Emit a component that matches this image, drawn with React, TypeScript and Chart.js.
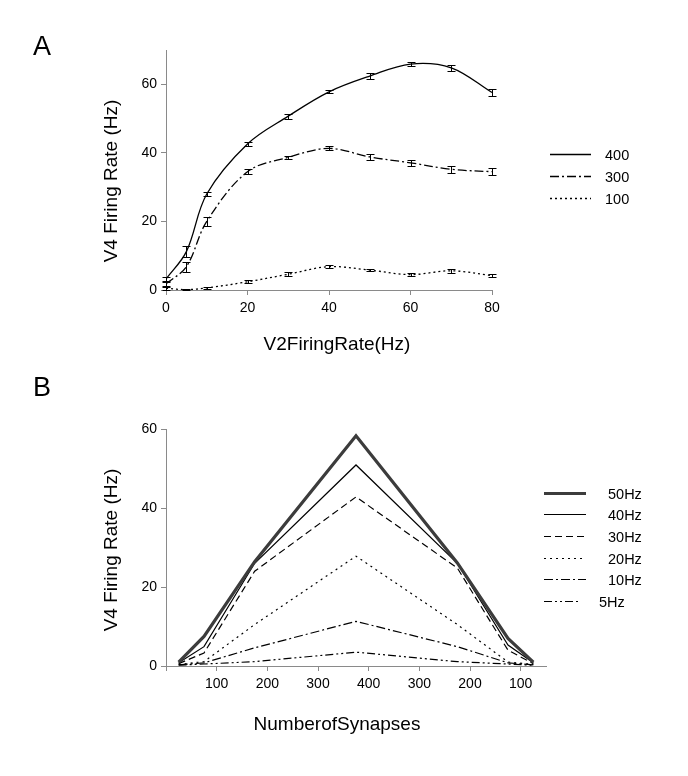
import React, { useEffect, useRef } from 'react';
import { Chart, registerables } from 'chart.js';

Chart.register(...registerables);

const FONT = '"Liberation Sans", Arial, Helvetica, sans-serif';

// ---------- Panel A data ----------
const xA = [0, 5, 10, 20, 30, 40, 50, 60, 70, 80];
const a400 = [3.2, 11.2, 28, 42.6, 50.7, 57.8, 62.4, 65.9, 64.8, 57.6];
const a400Err = [0.6, 1.5, 0.6, 0.5, 0.7, 0.4, 0.9, 0.7, 0.8, 1.0];
const a300 = [1.8, 6.8, 20, 34.5, 38.7, 41.3, 38.8, 37.1, 35.2, 34.5];
const a300Err = [0.6, 1.5, 1.2, 0.7, 0.5, 0.6, 1.0, 0.8, 1.0, 1.0];
const a100 = [0.5, 0.1, 0.6, 2.4, 4.6, 6.8, 5.8, 4.5, 5.6, 4.2];
const a100Err = [0.4, 0.2, 0.4, 0.5, 0.6, 0.4, 0.4, 0.4, 0.5, 0.4];
const aLabels = ['400', '300', '100'];
const aTicksX = [0, 80, 20];
const aTicksY = [0, 70, 20];

// ---------- Panel B data ----------
const xB = [25, 75, 175, 375, 575, 675, 725];
const b50 = [1, 7.5, 26.4, 58.3, 26.1, 7, 1];
const b40 = [0.8, 4.9, 26, 50.9, 26, 5.3, 0.8];
const b30 = [0.6, 3.3, 24, 42.8, 24.8, 4, 0.6];
const b20 = [0.4, 1.1, 10.5, 27.8, 10.5, 1, 0.4];
const b10 = [0.3, 0.8, 4.6, 11.3, 4.9, 0.8, 0.3];
const b5 = [0.2, 0.5, 1.1, 3.5, 1.1, 0.5, 0.2];
const bLabels = ['50Hz', '40Hz', '30Hz', '20Hz', '10Hz', '5Hz'];
const bTicksX = [0, 750, 100];
const bTicksY = [0, 60, 20];
const bTickMirror = 800;

const pts = (xs: number[], ys: number[]) => xs.map((x, i) => ({ x, y: ys[i] }));

const errorBarPlugin = {
  id: 'errorBars',
  afterDatasetsDraw(chart: any) {
    const ctx = chart.ctx;
    const xs = chart.scales.x;
    const ys = chart.scales.y;
    chart.data.datasets.forEach((ds: any) => {
      if (!ds.errors) return;
      ctx.save();
      ctx.strokeStyle = '#000';
      ctx.lineWidth = 1;
      ctx.setLineDash([]);
      ds.data.forEach((p: any, i: number) => {
        const e = ds.errors[i];
        const px = Math.round(xs.getPixelForValue(p.x)) + 0.5;
        const y1 = Math.round(ys.getPixelForValue(p.y + e)) + 0.5;
        const y2 = Math.round(ys.getPixelForValue(Math.max(0, p.y - e))) + 0.5;
        ctx.beginPath();
        ctx.moveTo(px, y1);
        ctx.lineTo(px, y2);
        ctx.moveTo(px - 4, y1);
        ctx.lineTo(px + 4, y1);
        ctx.moveTo(px - 4, y2);
        ctx.lineTo(px + 4, y2);
        ctx.stroke();
      });
      ctx.restore();
    });
  },
};

const sampleLegendPlugin = {
  id: 'sampleLegend',
  afterDraw(chart: any, _args: any, opts: any) {
    if (!opts || !opts.show) return;
    const ctx = chart.ctx;
    ctx.save();
    chart.data.datasets.forEach((ds: any, i: number) => {
      const y = Math.round(opts.y0 + i * opts.step) + 0.5;
      ctx.beginPath();
      ctx.strokeStyle = ds.borderColor;
      ctx.lineWidth = ds.borderWidth;
      ctx.setLineDash(ds.borderDash || []);
      ctx.moveTo(opts.x1, y);
      ctx.lineTo(ds.legendX2 ?? opts.x2, y);
      ctx.stroke();
      ctx.setLineDash([]);
      ctx.fillStyle = '#000';
      ctx.font = `${opts.fontSize}px ${FONT}`;
      ctx.textBaseline = 'middle';
      ctx.textAlign = 'left';
      ctx.fillText(ds.label, ds.legendTextX ?? opts.textX, y + 1);
    });
    ctx.restore();
  },
};

const axisCommon = {
  grid: { drawOnChartArea: false, drawTicks: true, tickLength: 5, color: '#8a8a8a', lineWidth: 1 },
  border: { display: true, color: '#8a8a8a', width: 1 },
};

const tickFont = { family: FONT, size: 14 };

function makeConfigA(): any {
  return {
    type: 'line',
    data: {
      datasets: [
        { label: aLabels[0], data: pts(xA, a400), errors: a400Err, borderColor: '#000', borderWidth: 1.3, tension: 0.35 },
        { label: aLabels[1], data: pts(xA, a300), errors: a300Err, borderColor: '#000', borderWidth: 1.3, tension: 0.35, borderDash: [9, 3, 2, 3] },
        { label: aLabels[2], data: pts(xA, a100), errors: a100Err, borderColor: '#000', borderWidth: 1.3, tension: 0.35, borderDash: [2, 3] },
      ],
    },
    options: {
      animation: false,
      responsive: false,
      layout: { padding: { left: 0, right: 196, top: 50, bottom: 0 } },
      elements: { point: { radius: 0 } },
      plugins: {
        legend: { display: false },
        tooltip: { enabled: false },
        sampleLegend: { show: true, x1: 550, x2: 591, textX: 605, y0: 154, step: 21.8, fontSize: 14.5 },
      },
      scales: {
        x: {
          type: 'linear', min: aTicksX[0], max: aTicksX[1],
          ticks: { stepSize: aTicksX[2], font: tickFont, color: '#000', padding: 5, maxRotation: 0 },
          ...axisCommon,
          afterFit: (s: any) => { s.height = 80; },
        },
        y: {
          type: 'linear', min: aTicksY[0], max: aTicksY[1],
          ticks: { stepSize: aTicksY[2], includeBounds: false, font: tickFont, color: '#000', padding: 4 },
          ...axisCommon,
          afterFit: (s: any) => { s.width = 166; },
        },
      },
    },
    plugins: [errorBarPlugin, sampleLegendPlugin],
  };
}

function makeConfigB(): any {
  const thin = { borderColor: '#000', borderWidth: 1.2, tension: 0 };
  return {
    type: 'line',
    data: {
      datasets: [
        { label: bLabels[0], data: pts(xB, b50), borderColor: '#3c3c3c', borderWidth: 3.2, tension: 0 },
        { label: bLabels[1], data: pts(xB, b40), ...thin },
        { label: bLabels[2], data: pts(xB, b30), ...thin, borderDash: [7, 4] },
        { label: bLabels[3], data: pts(xB, b20), ...thin, borderDash: [2, 4] },
        { label: bLabels[4], data: pts(xB, b10), ...thin, borderDash: [9, 3, 2, 3] },
        { label: bLabels[5], data: pts(xB, b5), ...thin, borderDash: [8, 3, 2, 3, 2, 3], legendX2: 581, legendTextX: 599 },
      ],
    },
    options: {
      animation: false,
      responsive: false,
      layout: { padding: { left: 0, right: 142, top: 59, bottom: 0 } },
      elements: { point: { radius: 0 } },
      plugins: {
        legend: { display: false },
        tooltip: { enabled: false },
        sampleLegend: { show: true, x1: 544, x2: 586, textX: 608, y0: 122.7, step: 21.6, fontSize: 14.5 },
      },
      scales: {
        x: {
          type: 'linear', min: bTicksX[0], max: bTicksX[1],
          ticks: {
            stepSize: bTicksX[2], includeBounds: false, font: tickFont, color: '#000', padding: 5, maxRotation: 0,
            callback: (v: number) => (v === 0 ? '' : String(v <= bTickMirror / 2 ? v : bTickMirror - v)),
          },
          ...axisCommon,
          afterFit: (s: any) => { s.height = 110; },
        },
        y: {
          type: 'linear', min: bTicksY[0], max: bTicksY[1],
          ticks: { stepSize: bTicksY[2], includeBounds: false, font: tickFont, color: '#000', padding: 4 },
          ...axisCommon,
          afterFit: (s: any) => { s.width = 166; },
        },
      },
    },
    plugins: [sampleLegendPlugin],
  };
}

function ChartCanvas({ make, top, height }: { make: () => any; top: number; height: number }) {
  const ref = useRef<HTMLCanvasElement | null>(null);
  useEffect(() => {
    if (!ref.current) return;
    const c = new Chart(ref.current, make());
    return () => c.destroy();
  }, []);
  return (
    <canvas
      ref={ref}
      width={688}
      height={height}
      style={{ position: 'absolute', left: 0, top, width: 688, height, display: 'block' }}
    />
  );
}

function Text({ x, y, size, rotate, children }: { x: number; y: number; size: number; rotate?: boolean; children: any }) {
  return (
    <div
      style={{
        position: 'absolute',
        left: x,
        top: y,
        transform: `translate(-50%, -50%)${rotate ? ' rotate(-90deg)' : ''}`,
        fontFamily: FONT,
        fontSize: size,
        color: '#000',
        whiteSpace: 'nowrap',
        lineHeight: 1,
      }}
    >
      {children}
    </div>
  );
}

export default function App() {
  return (
    <div style={{ position: 'absolute', left: 0, top: 0, width: 688, height: 776, background: '#fff', overflow: 'hidden' }}>
      <ChartCanvas make={makeConfigA} top={0} height={370} />
      <ChartCanvas make={makeConfigB} top={370} height={406} />
      <Text x={42} y={46} size={27}>A</Text>
      <Text x={42} y={387} size={27}>B</Text>
      <Text x={110} y={181} size={19} rotate>V4 Firing Rate (Hz)</Text>
      <Text x={110} y={550} size={19} rotate>V4 Firing Rate (Hz)</Text>
      <Text x={337} y={343} size={19}>V2FiringRate(Hz)</Text>
      <Text x={337} y={723} size={19}>NumberofSynapses</Text>
    </div>
  );
}
